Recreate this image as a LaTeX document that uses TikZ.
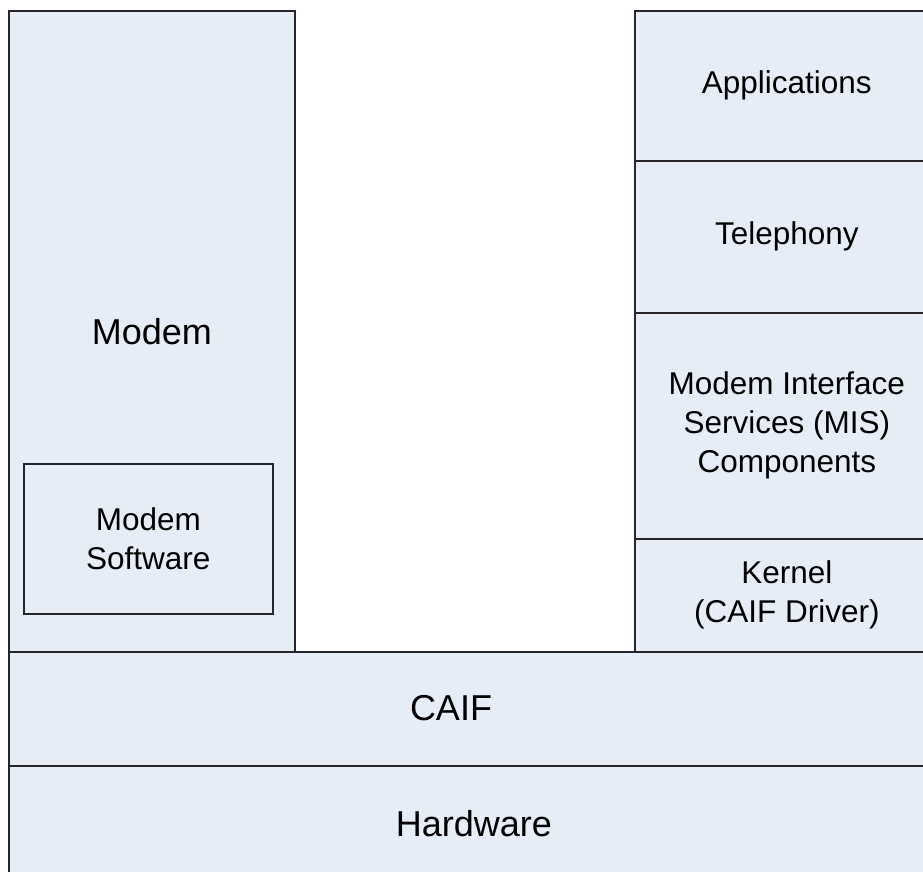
\documentclass[tikz,border=0pt]{standalone}
\usepackage{fontspec}
\setmainfont{Liberation Sans}
\definecolor{layerfill}{RGB}{231,237,247}
\definecolor{layerline}{RGB}{38,38,42}
\begin{document}
\begin{tikzpicture}[x=1pt,y=-1pt,
  layer/.style={draw=layerline, line width=1.6pt, fill=layerfill, rectangle,
    anchor=north west, inner sep=0pt, align=center},
  small/.style={font=\fontsize{31.5}{39}\selectfont},
  big/.style={font=\fontsize{36}{43}\selectfont}]
\useasboundingbox (0,0) rectangle (923,872);
\clip (0,0) rectangle (923,872);
% left stack: modem with its software
\node[layer, big, minimum width=286pt, minimum height=641pt] (modem) at (8,10) {Modem};
\node[layer, small, minimum width=249pt, minimum height=150pt] (modemsw) at (23,463) {Modem\\Software};
% right stack: host side
\node[layer, small, minimum width=304pt, minimum height=150pt] (apps) at (634,10) {Applications};
\node[layer, small, minimum width=304pt, minimum height=152pt] (tel) at (634,160) {Telephony};
\node[layer, small, minimum width=304pt, minimum height=226pt] (mis) at (634,312) {Modem Interface\\Services (MIS)\\Components};
\node[layer, small, minimum width=304pt, minimum height=113pt] (kernel) at (634,538) {Kernel\\(CAIF Driver)};
% shared layers at the bottom
\node[layer, minimum width=930pt, minimum height=114pt] (caif) at (8,651) {};
\node[big, inner sep=0pt] (caiftext) at (451,708) {CAIF};
\node[layer, big, minimum width=930pt, minimum height=115pt] (hw) at (8,765) {Hardware};
\end{tikzpicture}
\end{document}
